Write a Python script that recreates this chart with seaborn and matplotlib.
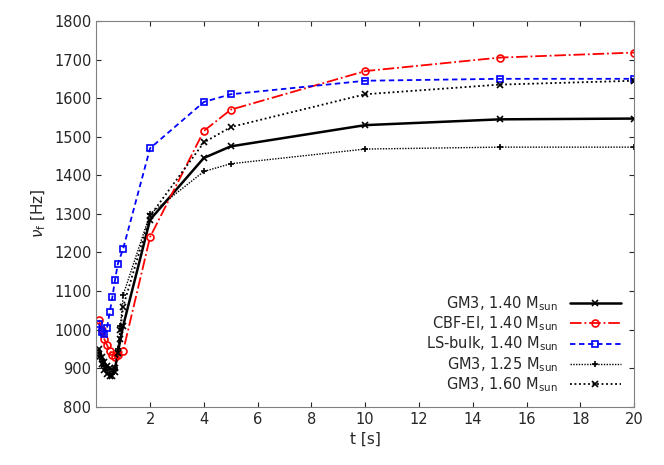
import matplotlib
matplotlib.use("Agg")
import matplotlib.pyplot as plt
import seaborn as sns
import pandas as pd

t_a = [0.1,0.2,0.3,0.4,0.5,0.6,0.7,0.8,0.9,1.0,2,4,5,10,15,20]
gm3_140 = [950,930,915,905,900,895,900,940,975,1010,1285,1445,1475,1530,1545,1547]
gm3_125 = [940,920,905,895,885,885,900,950,1010,1090,1300,1410,1430,1468,1473,1473]
gm3_160 = [930,910,895,885,880,880,890,940,1000,1060,1295,1485,1525,1610,1635,1645]
t_b = [0.1,0.2,0.3,0.4,0.5,0.6,0.7,0.8,1.0,2,4,5,10,15,20]
cbf = [1025,1000,975,960,945,935,930,935,945,1240,1515,1570,1670,1705,1718]
ls = [1015,995,990,1005,1045,1085,1130,1170,1210,1470,1590,1610,1645,1650,1650]

sns.set_style("ticks")
fig, ax = plt.subplots(figsize=(6.64,4.65), dpi=100)
series = [
    ("GM3, 1.40 M$_{\\rm sun}$", t_a, gm3_140, "black", "-", "x", 1.8),
    ("CBF-EI, 1.40 M$_{\\rm sun}$", t_b, cbf, "red", "-.", "o", 1.3),
    ("LS-bulk, 1.40 M$_{\\rm sun}$", t_b, ls, "blue", (0,(3,2)), "s", 1.3),
    ("GM3, 1.25 M$_{\\rm sun}$", t_a, gm3_125, "black", (0,(1,1)), "+", 1.0),
    ("GM3, 1.60 M$_{\\rm sun}$", t_a, gm3_160, "black", (0,(1,1.5)), "x", 1.3),
]
for lab, x, y, c, ls_, m, lw in series:
    sns.lineplot(x=x, y=y, ax=ax, color=c, linestyle=ls_, marker=m, lw=lw,
                 markersize=5, markerfacecolor="none", markeredgecolor=c, mew=1.2, label=lab)
ax.set_xlim(0,20); ax.set_ylim(800,1800)
ax.set_xticks(range(2,21,2)); ax.set_yticks(range(800,1801,100))
ax.set_xlabel("t [s]", fontsize=11); ax.set_ylabel("$\\nu_{\\rm f}$ [Hz]", fontsize=11)
ax.tick_params(direction="in", top=True, right=True, labelsize=10.5)
for s in ax.spines.values():
    s.set_color("#808080")
ax.legend(loc="lower right", frameon=False, markerfirst=False, handlelength=3.5,
          labelspacing=0.1, fontsize=10.5)
plt.subplots_adjust(left=0.145, right=0.955, bottom=0.125, top=0.955)
fig.savefig("out.png", dpi=100)
